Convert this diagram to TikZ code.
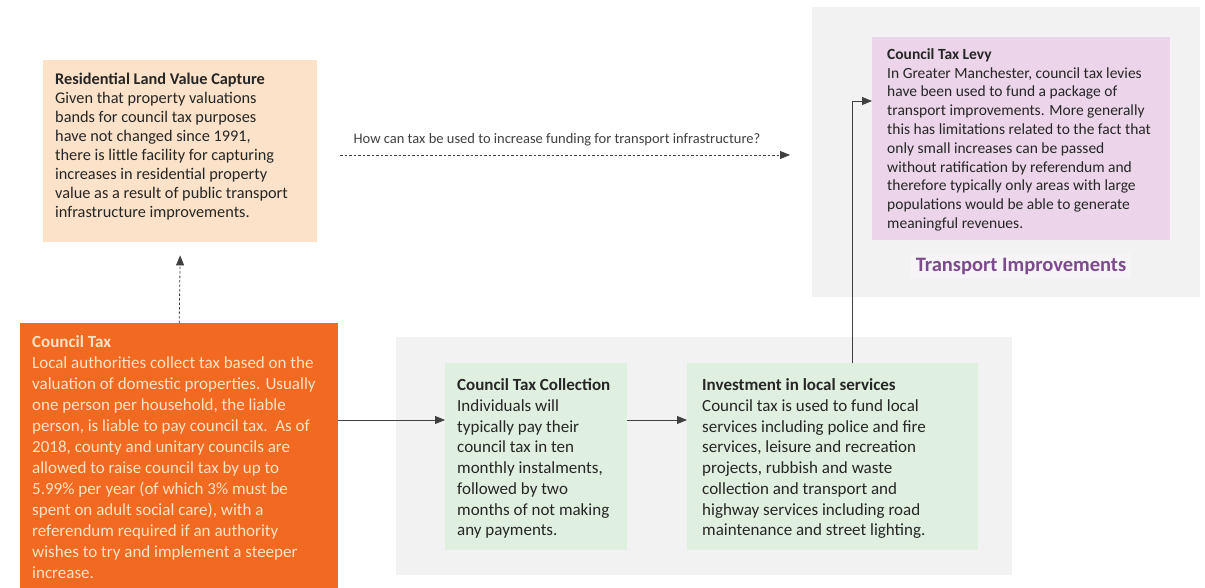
\documentclass[tikz,border=0pt]{standalone}
\usepackage{fontspec}
\setmainfont{Carlito}
\usetikzlibrary{arrows.meta,calc}
\definecolor{bggray}{HTML}{F2F2F2}
\definecolor{ctorange}{HTML}{F26A22}
\definecolor{cttext}{HTML}{FDE2C4}
\definecolor{peach}{HTML}{FBE2C8}
\definecolor{mint}{HTML}{DFF0E1}
\definecolor{lilac}{HTML}{ECD4EA}
\definecolor{darktext}{HTML}{262626}
\definecolor{linegray}{HTML}{404040}
\definecolor{tipurple}{HTML}{7D4A8E}
\definecolor{tiback}{HTML}{F6F4F6}
\tikzset{
  panel/.style={draw=none, fill=bggray, anchor=north west, inner sep=0pt},
  boxshape/.style={draw=none, anchor=north west, inner sep=0pt},
  boxtext/.style={anchor=north west, inner sep=0pt, align=left, text=darktext},
  arr/.style={draw=linegray, line width=0.8pt, -{Triangle[length=10pt,width=8pt]}},
  dasharr/.style={draw=linegray, line width=0.8pt, dash pattern=on 2.5pt off 2pt, -{Triangle[length=10pt,width=8pt]}},
}
\begin{document}
\begin{tikzpicture}[x=1pt,y=-1pt]
\useasboundingbox[fill=white] (0,0) rectangle (1205,588);
% background panels
\node[panel, minimum width=388pt, minimum height=290pt] (toppanel) at (812,7) {};
\node[panel, minimum width=616pt, minimum height=238pt] (botpanel) at (396,337) {};
% boxes
\node[boxshape, fill=ctorange, minimum width=318pt, minimum height=265pt] (ct) at (20,323) {};
\node[boxshape, fill=peach, minimum width=274pt, minimum height=182pt] (rlvc) at (43,60) {};
\node[boxshape, fill=mint, minimum width=182pt, minimum height=187pt] (coll) at (445,363) {};
\node[boxshape, fill=mint, minimum width=291pt, minimum height=187pt] (inv) at (687,363) {};
\node[boxshape, fill=lilac, minimum width=298pt, minimum height=203pt] (levy) at (872,37) {};
% texts
\node[boxtext, text=cttext, font=\fontsize{17}{21}\selectfont] (cttxt) at (32,335.5) {%
\textbf{Council Tax}\\
Local authorities collect tax based on the\\
valuation of domestic properties. Usually\\
one person per household, the liable\\
person, is liable to pay council tax.\ \ As of\\
2018, county and unitary councils are\\
allowed to raise council tax by up to\\
5.99\% per year (of which 3\% must be\\
spent on adult social care), with a\\
referendum required if an authority\\
wishes to try and implement a steeper\\
increase.};
\node[boxtext, font=\fontsize{16.3}{19}\selectfont] (rlvctxt) at (55,73) {%
\textbf{Residential Land Value Capture}\\
Given that property valuations\\
bands for council tax purposes\\
have not changed since 1991,\\
there is little facility for capturing\\
increases in residential property\\
value as a result of public transport\\
infrastructure improvements.};
\node[boxtext, font=\fontsize{17}{20.7}\selectfont] (colltxt) at (457,378.7) {%
\textbf{Council Tax Collection}\\
Individuals will\\
typically pay their\\
council tax in ten\\
monthly instalments,\\
followed by two\\
months of not making\\
any payments.};
\node[boxtext, font=\fontsize{17}{20.7}\selectfont] (invtxt) at (702,378.7) {%
\textbf{Investment in local services}\\
Council tax is used to fund local\\
services including police and fire\\
services, leisure and recreation\\
projects, rubbish and waste\\
collection and transport and\\
highway services including road\\
maintenance and street lighting.};
\node[boxtext, font=\fontsize{15.5}{18.8}\selectfont] (levytxt) at (887,48.3) {%
\textbf{Council Tax Levy}\\
In Greater Manchester, council tax levies\\
have been used to fund a package of\\
transport improvements. More generally\\
this has limitations related to the fact that\\
only small increases can be passed\\
without ratification by referendum and\\
therefore typically only areas with large\\
populations would be able to generate\\
meaningful revenues.};
\node[fill=tiback, inner xsep=5pt, inner ysep=4pt, text=tipurple, font=\fontsize{20.5}{24}\selectfont\bfseries] (tilabel) at (1021,266) {Transport Improvements};
\node[text=linegray, inner sep=0pt, font=\fontsize{14.5}{17}\selectfont] (qlabel) at (557,140) {How can tax be used to increase funding for transport infrastructure?};
% connectors
\coordinate (qs) at (340,155);
\coordinate (qe) at (790,155);
\coordinate (rowy) at (0,420);
\coordinate (turn) at (852,101);
\draw[dasharr] (ct.north) -- ($(rlvc.south)+(0,13)$);
\draw[dasharr] (qs) -- (qe);
\draw[arr] (ct.east |- rowy) -- (coll.west |- rowy);
\draw[arr] (coll.east |- rowy) -- (inv.west |- rowy);
\draw[arr] (turn |- inv.north) -- (turn) -- (levy.west |- turn);
\end{tikzpicture}
\end{document}
